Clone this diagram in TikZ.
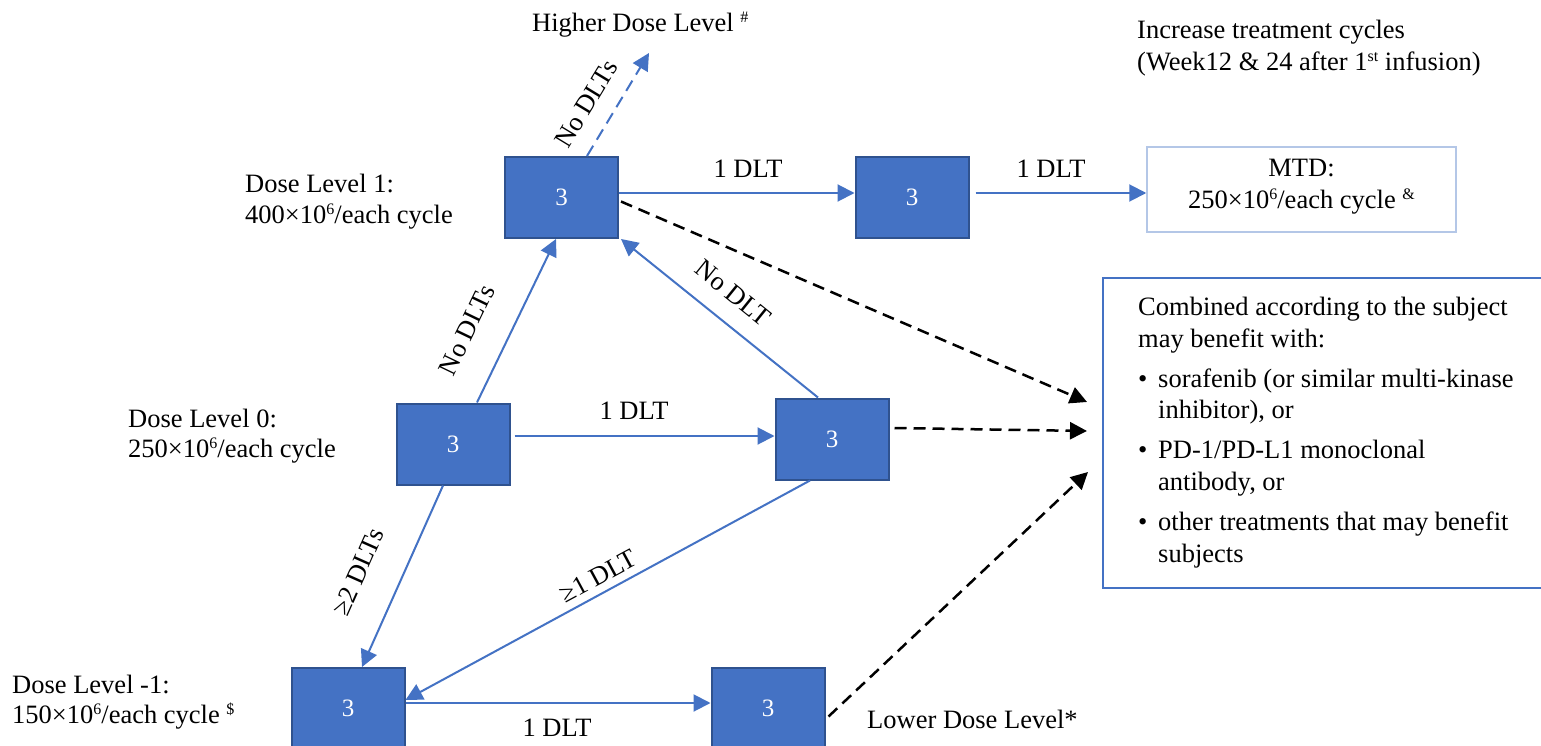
\documentclass[tikz,border=0pt]{standalone}
\usepackage{fontspec}
\setmainfont{Liberation Serif}
\usetikzlibrary{arrows.meta}
\definecolor{bl}{HTML}{4472C4}
\definecolor{bd}{HTML}{2F528F}
\definecolor{lb}{HTML}{B4C7E7}
\newcommand{\fsz}{\fontsize{26.5}{30}\selectfont}
\newcommand{\supx}[1]{\raisebox{9pt}{\fontsize{16}{16}\selectfont #1}}
\begin{document}
\begin{tikzpicture}[x=1pt,y=-1pt,
  box/.style={fill=bl,draw=bd,line width=2pt,minimum width=113pt,minimum height=81pt,inner sep=0pt,text=white,font=\fontsize{25}{25}\selectfont},
  txt/.style={font=\fsz,inner sep=0pt,anchor=base west},
  ctxt/.style={font=\fsz,inner sep=0pt,anchor=base},
  lbl/.style={font=\fsz,inner sep=0pt,anchor=center},
  barrow/.style={draw=bl,line width=2pt,-{Triangle[length=17pt,width=17pt]}},
  bdash/.style={barrow,dash pattern=on 12pt off 7pt},
  karrow/.style={draw=black,line width=2.5pt,dash pattern=on 12pt off 7pt,-{Triangle[length=17pt,width=17pt]}},
]
\useasboundingbox (0,0) rectangle (1541,746);
\clip (0,0) rectangle (1541,746);
\fill[white] (0,0) rectangle (1541,746);

% boxes
\node[box] (A) at (561.5,197.5) {3};
\node[box] (B) at (912,197.5) {3};
\node[draw=lb,line width=1.5pt,minimum width=309pt,minimum height=85pt,inner sep=0pt] (M) at (1301.5,189.5) {};
\node[box] (C) at (453,444) {3};
\node[box] (D) at (832,439) {3};
\node[box] (E) at (348,708.5) {3};
\node[box] (F) at (768,708.5) {3};
\node[draw=bl,line width=2pt,minimum width=497pt,minimum height=310pt,inner sep=0pt] (R) at (1351.5,433) {};

% free ends
\coordinate (hi) at (649,53);
\coordinate (r1) at (1087,402);
\coordinate (r2) at (1087,431);
\coordinate (r3) at (1088,472);

% texts
\node[txt] (hdl) at (532,32) {Higher Dose Level \supx{\#}};
\node[txt] (inc1) at (1137,39) {Increase treatment cycles};
\node[txt] (inc2) at (1137,71) {(Week12 \& 24 after 1\supx{st} infusion)};
\node[ctxt] (m1) at (1301.5,177) {MTD:};
\node[ctxt] (m2) at (1301.5,208) {250×10\supx{6}/each cycle \supx{\&}};
\node[txt] (d1a) at (245,193) {Dose Level 1:};
\node[txt] (d1b) at (245,223) {400×10\supx{6}/each cycle};
\node[txt] (d0a) at (128,427) {Dose Level 0:};
\node[txt] (d0b) at (128,457) {250×10\supx{6}/each cycle};
\node[txt] (dma) at (12,693) {Dose Level -1:};
\node[txt] (dmb) at (12,723) {150×10\supx{6}/each cycle \supx{\$}};
\node[txt] (ldl) at (867,728) {Lower Dose Level*};

\node[txt] (r1a) at (1138,315) {Combined according to the subject};
\node[txt] (r1b) at (1138,347) {may benefit with:};
\node[txt] (b1) at (1138,387) {•};
\node[txt] (r2a) at (1158,387) {sorafenib (or similar multi-kinase};
\node[txt] (r2b) at (1158,418) {inhibitor), or};
\node[txt] (b2) at (1138,458) {•};
\node[txt] (r3a) at (1158,458) {PD-1/PD-L1 monoclonal};
\node[txt] (r3b) at (1158,490) {antibody, or};
\node[txt] (b3) at (1138,530) {•};
\node[txt] (r4a) at (1158,530) {other treatments that may benefit};
\node[txt] (r4b) at (1158,562) {subjects};

% blue connectors
\draw[barrow] ([yshift=4.5pt]A.east) -- ([yshift=4.5pt]B.west);
\draw[barrow] ([xshift=6pt,yshift=4.5pt]B.east) -- ([yshift=-3.5pt]M.west);
\draw[bdash] ([xshift=25.5pt]A.north) -- (hi);
\draw[barrow] ([xshift=24pt]C.north) -- ([xshift=-5.5pt]A.south);
\draw[barrow] ([xshift=-14pt]D.north) -- ([xshift=2pt]A.south east);
\draw[barrow] ([xshift=4pt,yshift=8pt]C.east) -- ([yshift=3pt]D.west);
\draw[barrow] ([xshift=-10pt]C.south) -- ([xshift=14pt]E.north);
\draw[barrow] ([xshift=-22pt]D.south) -- ([yshift=8.5pt]E.east);
\draw[barrow] ([yshift=5.5pt]E.east) -- ([yshift=5.5pt]F.west);

% black dashed connectors
\draw[karrow] ([xshift=2pt,yshift=-4pt]A.east) -- (r1);
\draw[karrow] ([xshift=5pt,yshift=11pt]D.east) -- (r2);
\draw[karrow] ([xshift=3pt,yshift=-8pt]F.east) -- (r3);

% connector labels
\node[ctxt] (lab1) at (748,178) {1 DLT};
\node[ctxt] (lab2) at (1051,178) {1 DLT};
\node[ctxt] (lab3) at (634,419) {1 DLT};
\node[ctxt] (lab4) at (557,736) {1 DLT};
\node[lbl,rotate=58.7] (lab5) at (586,104) {No DLTs};
\node[lbl,rotate=64.3] (lab6) at (467,330) {No DLTs};
\node[lbl,rotate=-38.9] (lab7) at (733,293) {No DLT};
\node[lbl,rotate=66] (lab8) at (358,572) {≥2 DLTs};
\node[lbl,rotate=28.4] (lab9) at (598,576) {≥1 DLT};
\end{tikzpicture}
\end{document}
